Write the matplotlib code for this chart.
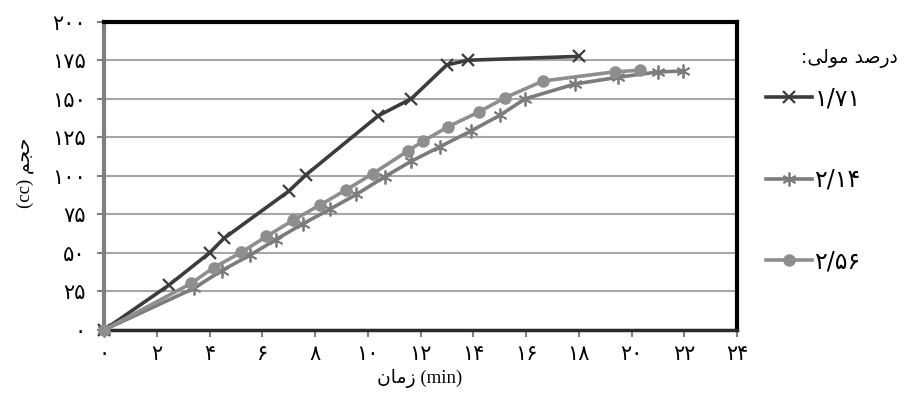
import matplotlib.pyplot as plt

# Persian digits
FA = str.maketrans("0123456789", "\u06f0\u06f1\u06f2\u06f3\u06f4\u06f5\u06f6\u06f7\u06f8\u06f9")

def fa(v):
    return str(v).translate(FA)

# data: time (min) vs volume (cc)
x_171 = [0, 2.45, 4.0, 4.55, 7.0, 7.65, 10.4, 11.65, 13.0, 13.8, 18.0]
y_171 = [0, 29, 50, 59.5, 90, 100.5, 139, 150, 172, 175, 177.5]

x_214 = [0, 3.4, 4.46, 5.53, 6.52, 7.55, 8.56, 9.57, 10.65, 11.65, 12.75, 13.9,
         15.0, 15.97, 17.84, 19.5, 21.0, 21.94]
y_214 = [0, 27, 38.5, 48.5, 58.7, 69, 78.3, 88, 99.5, 109.5, 119, 129,
         139.2, 150, 159.5, 164, 167.4, 168]

x_256 = [0, 3.3, 4.16, 5.2, 6.16, 7.17, 8.18, 9.17, 10.2, 11.53, 12.1, 13.06,
         14.2, 15.22, 16.64, 19.36, 20.33]
y_256 = [0, 30.2, 40.5, 50.3, 60.7, 71.2, 81, 90.8, 101.5, 116.3, 122.5, 132,
         141.3, 150.8, 161.5, 167.5, 168.5]

labels = ["1/71", "2/14", "2/56"]
x_ticks = list(range(0, 25, 2))
y_ticks = list(range(0, 201, 25))

# Arabic text in presentation forms, visual order (no shaping in matplotlib)
x_label = "\ufee5\ufe8e\ufee3\ufeaf (min)"          # zaman (min)
y_label = "(cc) \ufee2\ufea0\ufea3"                  # hajm (cc)
legend_title = ":\ufef0\ufedf\ufeee\ufee3 \ufeaa\ufebb\ufead\ufea9"  # darsad-e moli:

plt.rcParams['font.family'] = ['DejaVu Sans']

fig = plt.figure(figsize=(9.09, 4.01), dpi=100)
ax = fig.add_axes([104 / 909, 1 - 330 / 401, (737 - 104) / 909, (330 - 21.7) / 401])

l1, = ax.plot(x_171, y_171, color='#3c3c3c', lw=2.6, marker='x', ms=9, mew=1.6,
              zorder=5, clip_on=False)
l2, = ax.plot(x_214, y_214, color='#7c7c7c', lw=2.6, marker=(6, 2, 0), ms=10, mew=1.3,
              zorder=4, clip_on=False)
l3, = ax.plot(x_256, y_256, color='#8e8e8e', lw=2.6, marker='o', ms=8,
              zorder=6, clip_on=False)

ax.set_xlim(0, 24)
ax.set_ylim(0, 200)
ax.set_xticks(x_ticks)
ax.set_yticks(y_ticks)
ax.set_xticklabels([fa(v) for v in x_ticks])
ax.set_yticklabels([fa(v) for v in y_ticks])
ax.tick_params(axis='both', direction='out', length=5, width=1.5, color='#808080',
               labelsize=15, colors='black')
ax.tick_params(axis='x', pad=5)
ax.tick_params(axis='y', pad=8)

ax.grid(axis='y', color='#a6a6a6', lw=1.5)
ax.set_axisbelow(True)

ax.spines['top'].set_color('black')
ax.spines['top'].set_linewidth(3)
ax.spines['right'].set_color('black')
ax.spines['right'].set_linewidth(3)
ax.spines['left'].set_color('#7f7f7f')
ax.spines['left'].set_linewidth(3)
ax.spines['bottom'].set_color('#2a2a2a')
ax.spines['bottom'].set_linewidth(2.5)

fig.text(420 / 909, 1 - 379 / 401, x_label, ha='center', va='center', fontsize=13.5,
         family=['Liberation Serif', 'DejaVu Sans'])
fig.text(25 / 909, 1 - 173 / 401, y_label, ha='center', va='center', fontsize=13.5,
         rotation=90, family=['Liberation Serif', 'DejaVu Sans'])

fig.text(898 / 909, 1 - 58 / 401, legend_title, ha='right', va='center', fontsize=13.5)
fig.legend([l1, l2, l3], [fa(s) for s in labels], loc='upper left',
           bbox_to_anchor=(766 / 909, 1 - 86 / 401), bbox_transform=fig.transFigure,
           frameon=False, fontsize=17, borderpad=0, borderaxespad=0,
           handlelength=1.95, handletextpad=0.1, labelspacing=2.45)

fig.savefig('out.png', dpi=100)
